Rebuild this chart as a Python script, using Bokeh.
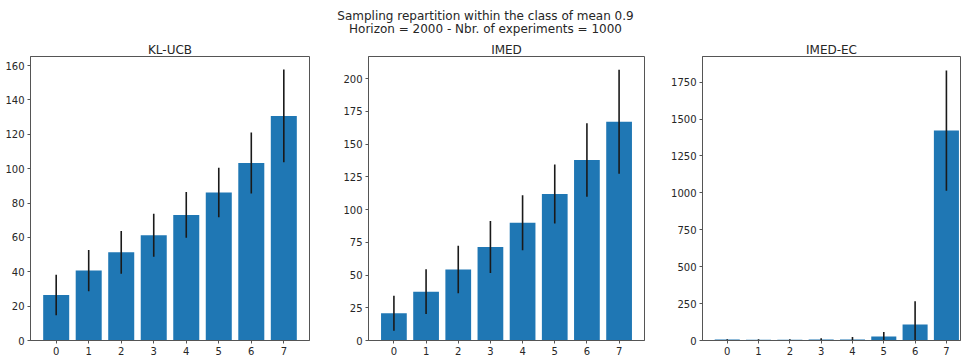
from bokeh.plotting import figure
from bokeh.layouts import column, row
from bokeh.models import Div, FixedTicker, Range1d, ColumnDataSource
from bokeh.embed import file_html
from bokeh.resources import INLINE

arms = [0, 1, 2, 3, 4, 5, 6, 7]

klucb_mean = [26.5, 40.7, 51.3, 61.3, 73.1, 86.2, 103.3, 130.7]
klucb_err = [11.8, 12.0, 12.4, 12.5, 13.3, 14.4, 17.7, 27.0]

imed_mean = [20.8, 37.3, 54.2, 71.4, 89.9, 111.8, 137.8, 167.0]
imed_err = [13.3, 17.0, 18.1, 19.8, 21.0, 22.5, 28.0, 39.7]

imedec_mean = [6, 5, 5, 6, 7, 27, 108, 1422]
imedec_err = [3, 3, 3, 9, 16, 30, 158, 408]

titles = ["KL-UCB", "IMED", "IMED-EC"]
yticks = [
    [0, 20, 40, 60, 80, 100, 120, 140, 160],
    [0, 25, 50, 75, 100, 125, 150, 175, 200],
    [0, 250, 500, 750, 1000, 1250, 1500, 1750],
]
ytops = [165.3, 216.8, 1924.0]

suptitle_1 = "Sampling repartition within the class of mean 0.9"
suptitle_2 = "Horizon = 2000 - Nbr. of experiments = 1000"

FONT = "DejaVu Sans"
BAR = "#1f77b4"
FRAME = "#555555"
TXT = "#262626"
FIG_H = 317


def make_panel(title, means, errs, ticks, ytop, width, bl, br, xend):
    lower = [m - e for m, e in zip(means, errs)]
    upper = [m + e for m, e in zip(means, errs)]
    src = ColumnDataSource(dict(x=arms, top=means, lo=lower, hi=upper))
    p = figure(width=width, height=FIG_H, output_backend="svg", toolbar_location=None,
               x_range=Range1d(-0.79, xend), y_range=Range1d(0, ytop),
               min_border_left=bl, min_border_right=br, min_border_top=0, min_border_bottom=0)
    p.vbar(x="x", top="top", bottom=0, width=0.8, source=src, fill_color=BAR, line_color=None)
    p.segment(x0="x", y0="lo", x1="x", y1="hi", source=src, line_color="#1a1a1a", line_width=1.6)
    p.title.text = title
    p.title.align = "center"
    p.title.text_font = FONT
    p.title.text_font_size = "12px"
    p.title.text_font_style = "normal"
    p.title.text_color = TXT
    p.title.standoff = 0
    p.xgrid.visible = False
    p.ygrid.visible = False
    p.outline_line_color = FRAME
    p.outline_line_width = 1
    p.xaxis.ticker = FixedTicker(ticks=arms)
    p.yaxis.ticker = FixedTicker(ticks=ticks)
    for ax in (p.xaxis[0], p.yaxis[0]):
        ax.axis_line_color = FRAME
        ax.major_tick_line_color = FRAME
        ax.major_tick_out = 3
        ax.major_tick_in = 0
        ax.minor_tick_line_color = None
        ax.major_label_text_font = FONT
        ax.major_label_text_font_size = "10px"
        ax.major_label_text_color = TXT
        ax.major_label_standoff = 3
    p.background_fill_color = "white"
    p.border_fill_color = "white"
    return p


p1 = make_panel(titles[0], klucb_mean, klucb_err, yticks[0], ytops[0], 340, 30, 31, 7.79)
p2 = make_panel(titles[1], imed_mean, imed_err, yticks[1], ytops[1], 328, 25, 24, 7.79)
p3 = make_panel(titles[2], imedec_mean, imedec_err, yticks[2], ytops[2], 293, 32, 1, 7.45)

div = Div(text=suptitle_1 + "<br>" + suptitle_2, width=961, height=30,
          styles={"text-align": "center", "font-family": FONT, "font-size": "12px",
                  "line-height": "13px", "color": TXT, "padding-top": "5px", "width": "961px"})

layout = column(div, row(p1, p2, p3, spacing=0), spacing=0)

open("out.html", "w").write(file_html(layout, INLINE))
